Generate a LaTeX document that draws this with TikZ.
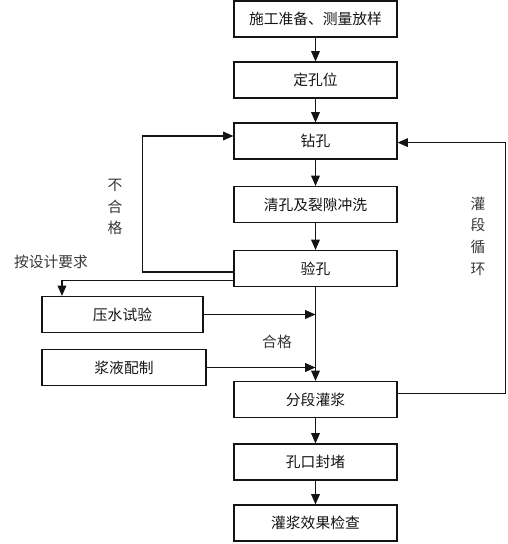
\documentclass[tikz,border=0pt]{standalone}
\usepackage{fontspec}
\newfontfamily\cjk{Noto Sans CJK SC}
\usetikzlibrary{arrows.meta,positioning,calc}
\definecolor{ink}{RGB}{20,20,20}
\tikzset{
  >={Triangle[length=2.6mm,width=2.2mm]},
  stepbox/.style={draw=ink,line width=0.8pt,minimum width=4.075cm,minimum height=0.9cm,
    inner sep=0pt,align=center,font=\cjk\fontsize{10.5}{12}\selectfont,text=ink},
  sidebox/.style={stepbox,minimum width=#1},
  sidebox/.default=4.05cm,
  flow/.style={->,line width=0.8pt,draw=ink},
  note/.style={font=\cjk\fontsize{10.5}{12}\selectfont,text=ink!85,align=center},
}
\begin{document}
\begin{tikzpicture}[x=0.025cm,y=-0.025cm]
  \useasboundingbox (0,0) rectangle (507,544);
  % main column
  \foreach \n/\y/\t in {b1/19/施工准备、测量放样,b2/80/定孔位,b3/141/钻孔,
      b4/204.5/清孔及裂隙冲洗,b5/268.5/验孔,b6/399.5/分段灌浆,b7/462/孔口封堵,b8/523/灌浆效果检查}{
    \node[stepbox] (\n) at (315.5,\y) {\t};
  }
  \node[sidebox=4.025cm] (ya) at (122.5,314.5) {压水试验};
  \node[sidebox=4.1cm] (yj) at (124,367.5) {浆液配制};
  % straight flow
  \foreach \a/\b in {b1/b2,b2/b3,b3/b4,b4/b5,b5/b6,b6/b7,b7/b8}
    \draw[flow] (\a) -- (\b);
  \draw[flow] (ya.east) -- (ya.east -| b5.south);
  \draw[flow] (yj.east) -- (yj.east -| b5.south);
  % loops
  \draw[flow] ([yshift=-0.0875cm]b5.west) -- ++(-91,0) |- ([yshift=0.125cm]b3.west);
  \draw[flow] ([yshift=-0.29cm]b5.west) -| ([xshift=-1.5125cm]ya.north);
  \draw[flow] ([yshift=0.14cm]b6.east) -- ++(108,0) |- ([yshift=-0.04cm]b3.east);
  % labels
  \node[note] (bhg) at (115,207) {不\\[1.2mm]合\\[1.2mm]格};
  \node[note] (asj) at (51,262) {按设计要求};
  \node[note] (hg) at (277,342) {合格};
  \node[note] (xh) at (478,236) {灌\\[1.2mm]段\\[1.2mm]循\\[1.2mm]环};
\end{tikzpicture}
\end{document}
